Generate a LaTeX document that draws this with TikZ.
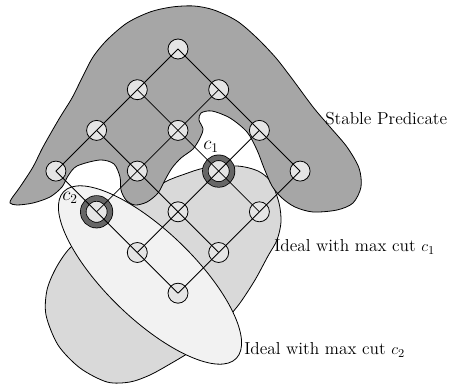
\documentclass[tikz,border=0pt]{standalone}
\definecolor{blobdark}{gray}{0.65}
\definecolor{idealone}{gray}{0.85}
\definecolor{idealtwo}{gray}{0.95}
\definecolor{nodefill}{gray}{0.9}
\definecolor{ringgray}{gray}{0.4}
\begin{document}
\begin{tikzpicture}[x=0.75pt,y=-0.75pt,
  region/.style={draw=black,line width=0.6pt},
  elem/.style={circle,draw=black,fill=nodefill,line width=0.6pt,minimum size=15pt,inner sep=0pt},
  cutnode/.style={circle,draw=black,fill=nodefill,line width=0.6pt,double=ringgray,double distance=3.6pt,minimum size=20pt,inner sep=0pt},
  edge/.style={draw=black,line width=0.6pt},
  lbl/.style={anchor=west,inner sep=0pt,font=\fontsize{13}{15}\selectfont},
  cutlbl/.style={inner sep=0pt,font=\fontsize{14}{16}\selectfont}]
\useasboundingbox (0,0) rectangle (450,384);
% ideal with max cut c1
\path[region,fill=idealone] plot[smooth cycle] coordinates {(70,248) (92,232) (115,215) (140,199) (165,182) (185,174) (205,168) (237,166) (258,171) (271,182) (279,203) (281,222) (277,240) (268,256) (255,280) (240,303) (226,320) (210,338) (190,352) (170,364) (150,375) (130,382) (107,382) (80,368) (58,345) (46,315) (47,290) (56,268)};
% ideal with max cut c2
\path[region,fill=idealtwo,rotate around={-44:(150,275)}] (150,275) ellipse [x radius=90pt,y radius=33pt];
% stable predicate
\path[region,fill=blobdark] plot[smooth cycle] coordinates {(10,203) (17,205) (33,203) (50,197) (62,187) (68,176) (77,166) (100,160) (114,164) (120,177) (121,190) (126,200) (135,205) (147,202) (158,193) (165,180) (172,168) (181,158) (193,149) (200,138) (203,129) (199,120) (201,113) (212,111) (230,118) (247,132) (257,150) (264,168) (272,186) (282,198) (295,207) (313,212) (337,210) (353,203) (361,187) (359,168) (347,147) (330,127) (313,107) (293,80) (276,58) (257,38) (237,21) (214,10) (194,6) (172,7) (150,12) (127,23) (107,40) (93,57) (82,78) (72,98) (59,119) (43,147) (33,167) (20,187) (12,198)};
% lattice elements
\node[elem] (n00) at (178,49) {};
\node[elem] (n01) at (218.7,89.7) {};
\node[elem] (n10) at (137.3,89.7) {};
\node[elem] (n02) at (259.4,130.4) {};
\node[elem] (n11) at (178,130.4) {};
\node[elem] (n20) at (96.6,130.4) {};
\node[elem] (n03) at (300.1,171.1) {};
\node[cutnode] (n12) at (218.7,171.1) {};
\node[elem] (n21) at (137.3,171.1) {};
\node[elem] (n30) at (55.9,171.1) {};
\node[elem] (n13) at (259.4,211.8) {};
\node[elem] (n22) at (178,211.8) {};
\node[cutnode] (n31) at (96.6,211.8) {};
\node[elem] (n23) at (218.7,252.5) {};
\node[elem] (n32) at (137.3,252.5) {};
\node[elem] (n33) at (178,293.2) {};
% lattice edges
\foreach \a in {0,1,2,3}{
  \foreach \b/\c in {0/1,1/2,2/3}{
    \draw[edge] (n\a\b.center) -- (n\a\c.center);
    \draw[edge] (n\b\a.center) -- (n\c\a.center);
  }
}
% labels
\node[lbl] (sp) at (325,119) {Stable Predicate};
\node[lbl] (ic1) at (274,247) {Ideal with max cut $c_1$};
\node[lbl] (ic2) at (244,350) {Ideal with max cut $c_2$};
\node[cutlbl] (lc1) at (211,147) {$c_1$};
\node[cutlbl] (lc2) at (70,198) {$c_2$};
\end{tikzpicture}
\end{document}
